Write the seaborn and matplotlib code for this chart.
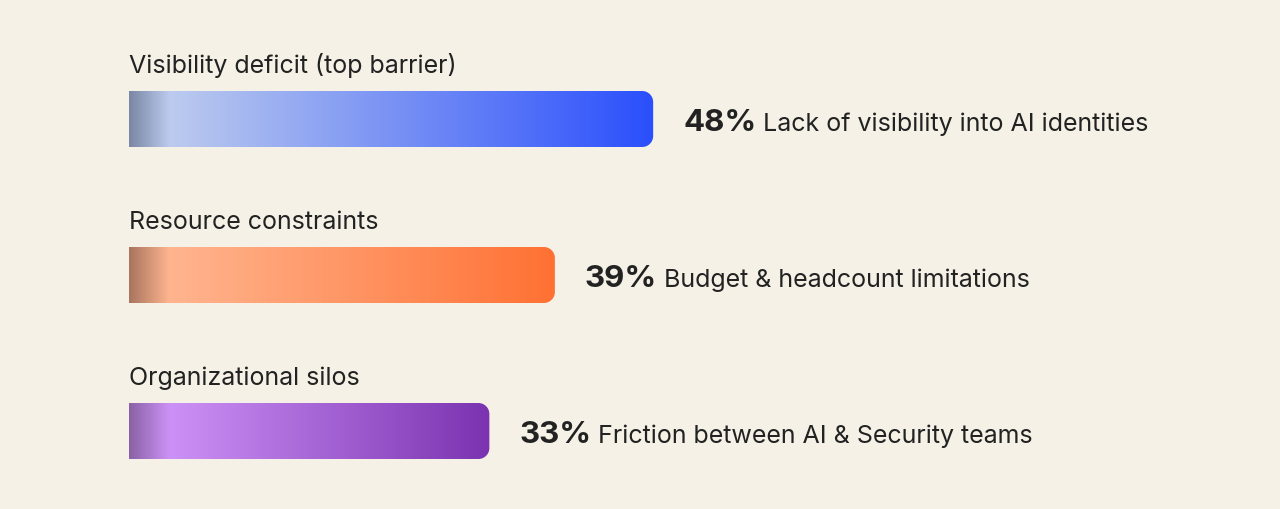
import numpy as np
import pandas as pd
import matplotlib
matplotlib.use("Agg")
import matplotlib.pyplot as plt
import seaborn as sns
from matplotlib.path import Path
from matplotlib.patches import PathPatch
from matplotlib.colors import LinearSegmentedColormap

categories = ["Visibility deficit (top barrier)", "Resource constraints", "Organizational silos"]
values = [48, 39, 33]
descriptions = ["Lack of visibility into AI identities",
                "Budget & headcount limitations",
                "Friction between AI & Security teams"]
edge_colors = ["#7b89a6", "#a9765f", "#8a62a6"]
light_colors = ["#bccbee", "#ffb58f", "#cc91f6"]
end_colors = ["#2a4ffc", "#ff7133", "#7b33b0"]

BG = "#f5f1e6"
TXT = "#222222"

sns.set_theme(style="white")
plt.rcParams["font.family"] = ["Inter", "DejaVu Sans"]

W, H = 1280, 510
fig = plt.figure(figsize=(W / 100, H / 100), dpi=100, facecolor=BG)
ax = fig.add_axes([129 / W, 0, 1092 / W, 1])
ax.set_facecolor(BG)

df = pd.DataFrame({"category": categories, "value": values})
sns.barplot(data=df, x="value", y="category", orient="h", width=56 / 156,
            color=end_colors[0], ax=ax)

XLIM = (0, 100)
YLIM = (2 + (H - 432) / 156, -120 / 156)
ax.set_xlim(*XLIM)
ax.set_ylim(*YLIM)
ax.axis("off")

px_x = 1092 / 100.0   # pixels per x unit
px_y = 156.0          # pixels per y unit
r_px = 11
rx, ry = r_px / px_x, r_px / px_y
k = 0.5523

for i, patch in enumerate(ax.patches[:len(values)]):
    x0, y0 = patch.get_x(), patch.get_y()
    w, h = patch.get_width(), patch.get_height()
    x1, y1 = x0 + w, y0 + h
    patch.set_visible(False)
    f = min(40 / (w * px_x), 0.5)
    cmap = LinearSegmentedColormap.from_list(
        f"g{i}", [(0, edge_colors[i]), (f, light_colors[i]), (1, end_colors[i])])
    grad = np.linspace(0, 1, 1024)[None, :]
    im = ax.imshow(grad, cmap=cmap, extent=[x0, x1, y1, y0], aspect="auto",
                   interpolation="bilinear", zorder=2)
    verts = [(x0, y0), (x1 - rx, y0),
             (x1 - rx + k * rx, y0), (x1, y0 + ry - k * ry), (x1, y0 + ry),
             (x1, y1 - ry),
             (x1, y1 - ry + k * ry), (x1 - rx + k * rx, y1), (x1 - rx, y1),
             (x0, y1), (x0, y0)]
    codes = [Path.MOVETO, Path.LINETO,
             Path.CURVE4, Path.CURVE4, Path.CURVE4,
             Path.LINETO,
             Path.CURVE4, Path.CURVE4, Path.CURVE4,
             Path.LINETO, Path.CLOSEPOLY]
    clip = PathPatch(Path(verts, codes), transform=ax.transData,
                     facecolor="none", edgecolor="none")
    ax.add_patch(clip)
    im.set_clip_path(clip)

    yc = y0 + h / 2
    ax.text(0, y0 - 19 / px_y, categories[i], fontsize=18, color=TXT,
            ha="left", va="baseline", zorder=3)
    ax.text(values[i] + 30 / px_x, yc + 11 / px_y, f"{values[i]}%",
            fontsize=22.5, fontweight="bold", color=TXT,
            ha="left", va="baseline", zorder=3)

ax.set_xlim(*XLIM)
ax.set_ylim(*YLIM)

fig.canvas.draw()
renderer = fig.canvas.get_renderer()
pct_texts = [t for t in ax.texts if t.get_text().endswith("%")]
for i, t in enumerate(pct_texts):
    bb = t.get_window_extent(renderer)
    xd = ax.transData.inverted().transform((bb.x1 + 7, bb.y0))[0]
    ax.text(xd, t.get_position()[1], descriptions[i], fontsize=18, color=TXT,
            ha="left", va="baseline", zorder=3)

fig.savefig("out.png", dpi=100, facecolor=BG)
